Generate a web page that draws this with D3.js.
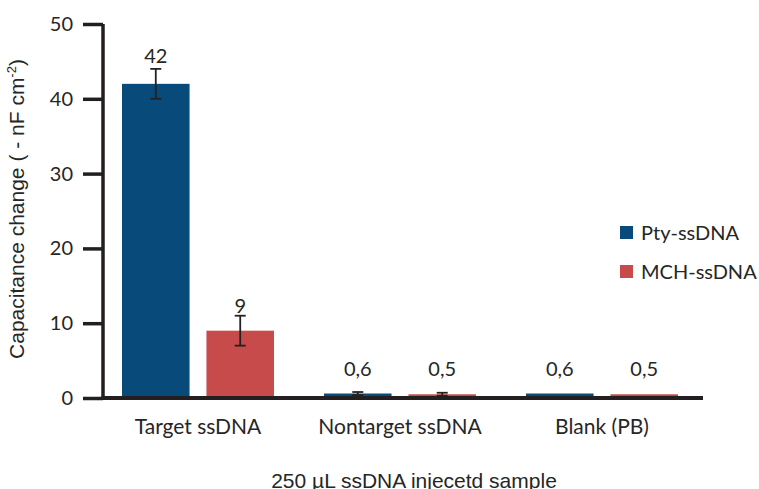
<!DOCTYPE html>
<html>
<head>
<meta charset="utf-8">
<script src="https://d3js.org/d3.v7.min.js"></script>
<style>
  body { margin: 0; background: #fff; }
  svg { display: block; }
</style>
</head>
<body>
<svg id="chart" width="759" height="489"></svg>
<script>
// Sample groups and series
const categories = ["Target ssDNA", "Nontarget ssDNA", "Blank (PB)"];
const seriesNames = ["Pty-ssDNA", "MCH-ssDNA"];
const ptyValues = [42, 0.6, 0.6];
const mchValues = [9, 0.5, 0.5];
const ptyErrors = [2, 0.2, 0];
const mchErrors = [2, 0.2, 0];
const valueLabels = [["42", "0,6", "0,6"], ["9", "0,5", "0,5"]];
const yTicks = [0, 10, 20, 30, 40, 50];

const colors = ["#084a7a", "#c84b4c"];
const textColor = "#262626";
const labelFont = "Lato, 'Open Sans', sans-serif";
const titleFont = "'Liberation Sans', Arial, sans-serif";

const svg = d3.select("#chart");

const x0 = d3.scaleBand().domain(categories).range([97, 703]).paddingInner(0).paddingOuter(0);
const x1 = d3.scaleBand().domain(seriesNames).range([25, x0.bandwidth() - 25]).paddingInner(0.2).paddingOuter(0);
const y = d3.scaleLinear().domain([0, 50]).range([398, 24]);

const rows = [];
categories.forEach((c, i) => {
  rows.push({ cat: c, s: 0, v: ptyValues[i], e: ptyErrors[i], label: valueLabels[0][i] });
  rows.push({ cat: c, s: 1, v: mchValues[i], e: mchErrors[i], label: valueLabels[1][i] });
});

// Bars
svg.append("g").selectAll("rect").data(rows).join("rect")
  .attr("x", d => x0(d.cat) + x1(seriesNames[d.s]))
  .attr("y", d => y(d.v))
  .attr("width", x1.bandwidth())
  .attr("height", d => y(0) - y(d.v))
  .attr("fill", d => colors[d.s]);

// Value labels
svg.append("g").selectAll("text").data(rows).join("text")
  .attr("x", d => x0(d.cat) + x1(seriesNames[d.s]) + x1.bandwidth() / 2)
  .attr("y", d => y(d.v) - (d.v > 20 ? 21 : 18))
  .attr("text-anchor", "middle")
  .attr("font-family", labelFont)
  .attr("font-size", 20)
  .attr("fill", textColor)
  .text(d => d.label);

// Error bars
const errG = svg.append("g").attr("stroke", "#222").attr("stroke-width", 1.8);
rows.filter(d => d.e > 0).forEach(d => {
  const cx = x0(d.cat) + x1(seriesNames[d.s]) + x1.bandwidth() / 2;
  const hi = y(d.v + d.e), lo = y(d.v - d.e);
  errG.append("line").attr("x1", cx).attr("x2", cx).attr("y1", hi).attr("y2", lo);
  errG.append("line").attr("x1", cx - 5.5).attr("x2", cx + 5.5).attr("y1", hi).attr("y2", hi);
  errG.append("line").attr("x1", cx - 5.5).attr("x2", cx + 5.5).attr("y1", lo).attr("y2", lo);
});

// Y axis
const yAxis = svg.append("g")
  .attr("transform", "translate(103,0)")
  .call(d3.axisLeft(y).tickValues(yTicks).tickSize(20).tickPadding(10).tickSizeOuter(0));
yAxis.select(".domain").attr("stroke", "#231f20").attr("stroke-width", 3.5)
  .attr("d", `M0,${y(50)}V${y(0) + 2}`);
yAxis.selectAll(".tick line").attr("stroke", "#231f20").attr("stroke-width", 3.5);
yAxis.selectAll(".tick text")
  .attr("font-family", labelFont).attr("font-size", 20).attr("fill", textColor);

// X axis
const xAxis = svg.append("g")
  .attr("transform", `translate(0,${y(0)})`)
  .call(d3.axisBottom(x0).tickSize(0).tickPadding(21));
xAxis.select(".domain").attr("stroke", "#231f20").attr("stroke-width", 4)
  .attr("d", `M101.5,0H703`);
xAxis.selectAll(".tick text")
  .attr("font-family", labelFont).attr("font-size", 21).attr("fill", textColor);

// Axis titles
svg.append("text")
  .attr("transform", "translate(24,209) rotate(-90)")
  .attr("text-anchor", "middle")
  .attr("font-family", titleFont)
  .attr("font-size", 21)
  .attr("fill", textColor)
  .html("Capacitance change ( - nF cm<tspan dy='-8' font-size='13'>-2</tspan><tspan dy='8'>)</tspan>");

svg.append("text")
  .attr("x", 414)
  .attr("y", 488)
  .attr("text-anchor", "middle")
  .attr("font-family", titleFont)
  .attr("font-size", 21)
  .attr("fill", textColor)
  .text("250 µL ssDNA injecetd sample");

// Legend
const legend = svg.append("g").attr("transform", "translate(620,226)");
seriesNames.forEach((name, i) => {
  const g = legend.append("g").attr("transform", `translate(0,${i * 39})`);
  g.append("rect").attr("width", 13).attr("height", 13).attr("fill", colors[i]);
  g.append("text").attr("x", 21).attr("y", 14)
    .attr("font-family", labelFont).attr("font-size", 20).attr("fill", textColor)
    .text(name);
});
</script>
</body>
</html>
